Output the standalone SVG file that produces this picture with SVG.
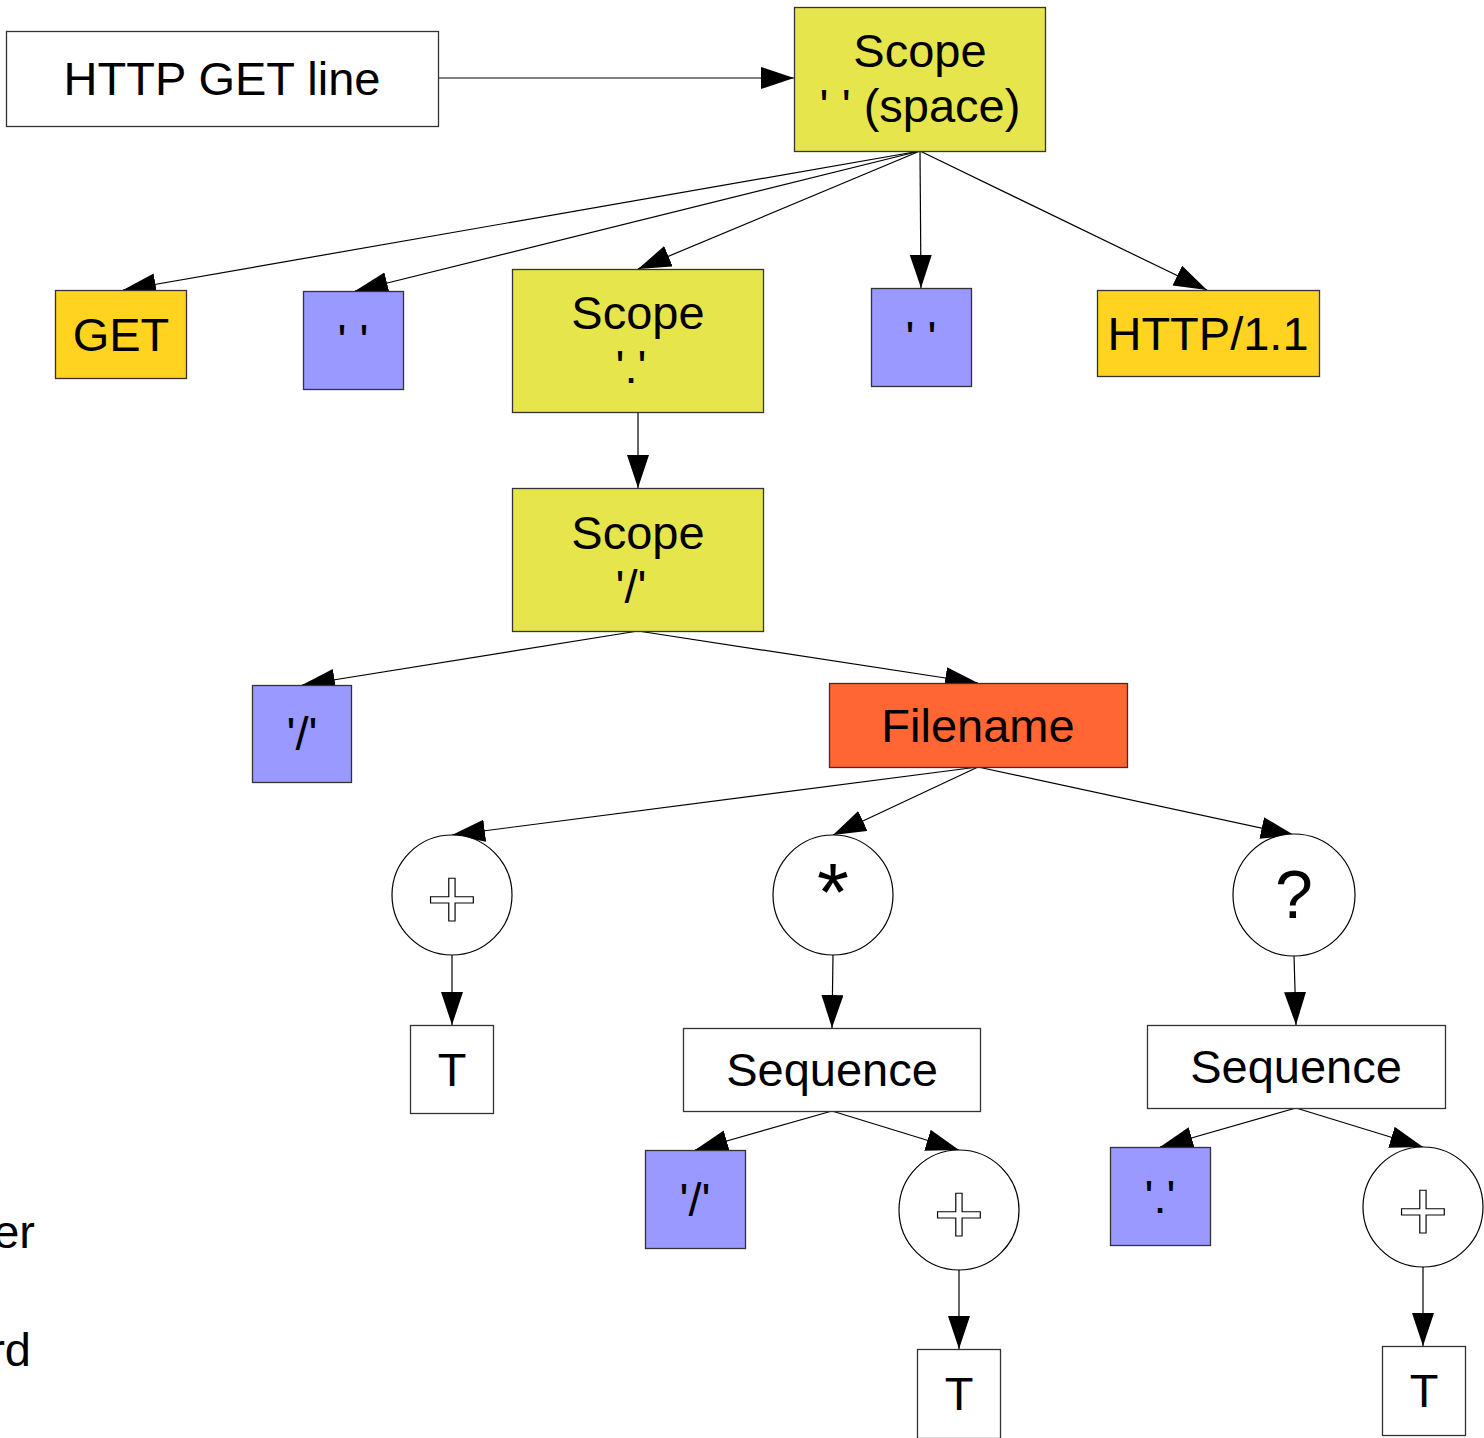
<svg xmlns="http://www.w3.org/2000/svg" width="1484" height="1438" viewBox="0 0 1484 1438">
<defs>
<marker id="ah" markerUnits="userSpaceOnUse" markerWidth="34" markerHeight="24" refX="33" refY="11" orient="auto">
<path d="M0,0 L33,11 L0,22 z" fill="#000"/>
</marker>
<style>
text{font-family:"Liberation Sans",Arial,sans-serif;font-size:47px;fill:#000;text-anchor:middle}
.box{stroke:#333;stroke-width:1.3}
.white{fill:#fff}
.scope{fill:#e6e64c}
.gold{fill:#ffd320}
.blue{fill:#9999ff}
.orange{fill:#ff6633}
.circ{fill:#fff;stroke:#000;stroke-width:1.2}
.plus{font-size:88px;fill:#fff;stroke:#000;stroke-width:1.2}
.big{font-size:68px}
.star{font-size:82px}
#edges line{stroke:#000;stroke-width:1.2;marker-end:url(#ah)}
</style>
</defs>
<rect width="1484" height="1438" fill="#fff"/>
<g id="edges">
<line x1="438" y1="78" x2="794" y2="78"/>
<line x1="920" y1="151" x2="123" y2="290"/>
<line x1="920" y1="151" x2="355" y2="291"/>
<line x1="920" y1="151" x2="638" y2="269"/>
<line x1="920" y1="151" x2="921" y2="288"/>
<line x1="920" y1="151" x2="1207" y2="290"/>
<line x1="638" y1="412" x2="638" y2="488"/>
<line x1="638" y1="631" x2="302" y2="685"/>
<line x1="638" y1="631" x2="978" y2="683"/>
<line x1="978" y1="767" x2="452" y2="835"/>
<line x1="978" y1="767" x2="833" y2="835"/>
<line x1="978" y1="767" x2="1294" y2="835"/>
<line x1="452" y1="955" x2="452" y2="1025"/>
<line x1="833" y1="955" x2="832" y2="1028"/>
<line x1="1294" y1="955" x2="1296" y2="1025"/>
<line x1="832" y1="1111" x2="695" y2="1150"/>
<line x1="832" y1="1111" x2="959" y2="1150"/>
<line x1="959" y1="1270" x2="959" y2="1349"/>
<line x1="1296" y1="1108" x2="1160" y2="1147"/>
<line x1="1296" y1="1108" x2="1423" y2="1147"/>
<line x1="1423" y1="1267" x2="1423" y2="1346"/>
</g>
<g id="n-http-get-line"><rect class="box white" x="6.5" y="31.5" width="432" height="95"/><text x="222" y="95">HTTP GET line</text></g>
<g id="n-scope-space"><rect class="box scope" x="794.5" y="7.5" width="251" height="144"/><text x="920" y="67">Scope</text><text x="920" y="122">' ' (space)</text></g>
<g id="n-get"><rect class="box gold" x="55.5" y="290.5" width="131" height="88"/><text x="121" y="351">GET</text></g>
<g id="n-space1"><rect class="box blue" x="303.5" y="291.5" width="100" height="98"/><text x="353" y="357">' '</text></g>
<g id="n-scope-dot"><rect class="box scope" x="512.5" y="269.5" width="251" height="143"/><text x="638" y="329">Scope</text><text x="631" y="383">'.'</text></g>
<g id="n-space2"><rect class="box blue" x="871.5" y="288.5" width="100" height="98"/><text x="921" y="354">' '</text></g>
<g id="n-http11"><rect class="box gold" x="1097.5" y="290.5" width="222" height="86"/><text x="1208" y="350">HTTP/1.1</text></g>
<g id="n-scope-slash"><rect class="box scope" x="512.5" y="488.5" width="251" height="143"/><text x="638" y="549">Scope</text><text x="631" y="603">'/'</text></g>
<g id="n-slash1"><rect class="box blue" x="252.5" y="685.5" width="99" height="97"/><text x="302" y="750">'/'</text></g>
<g id="n-filename"><rect class="box orange" x="829.5" y="683.5" width="298" height="84"/><text x="978" y="742">Filename</text></g>
<g id="n-plus1"><circle class="circ" cx="452" cy="895" r="60"/><text class="plus" x="452" y="929">+</text></g>
<g id="n-star"><circle class="circ" cx="833" cy="895" r="60"/><text class="star" x="833" y="920">*</text></g>
<g id="n-q"><circle class="circ" cx="1294" cy="895" r="61"/><text class="big" x="1294" y="918">?</text></g>
<g id="n-t1"><rect class="box white" x="410.5" y="1025.5" width="83" height="88"/><text x="452" y="1086">T</text></g>
<g id="n-seq1"><rect class="box white" x="683.5" y="1028.5" width="297" height="83"/><text x="832" y="1086">Sequence</text></g>
<g id="n-seq2"><rect class="box white" x="1147.5" y="1025.5" width="298" height="83"/><text x="1296" y="1083">Sequence</text></g>
<g id="n-slash2"><rect class="box blue" x="645.5" y="1150.5" width="100" height="98"/><text x="695" y="1216">'/'</text></g>
<g id="n-plus2"><circle class="circ" cx="959" cy="1210" r="60"/><text class="plus" x="959" y="1244">+</text></g>
<g id="n-t2"><rect class="box white" x="917.5" y="1349.5" width="83" height="89"/><text x="959" y="1410">T</text></g>
<g id="n-dot"><rect class="box blue" x="1110.5" y="1147.5" width="100" height="98"/><text x="1160" y="1213">'.'</text></g>
<g id="n-plus3"><circle class="circ" cx="1423" cy="1207" r="60"/><text class="plus" x="1423" y="1241">+</text></g>
<g id="n-t3"><rect class="box white" x="1382.5" y="1346.5" width="83" height="89"/><text x="1424" y="1407">T</text></g>
<g id="cut-texts"><text x="35" y="1248" style="text-anchor:end">er</text><text x="31" y="1366" style="text-anchor:end">rd</text></g>
</svg>
